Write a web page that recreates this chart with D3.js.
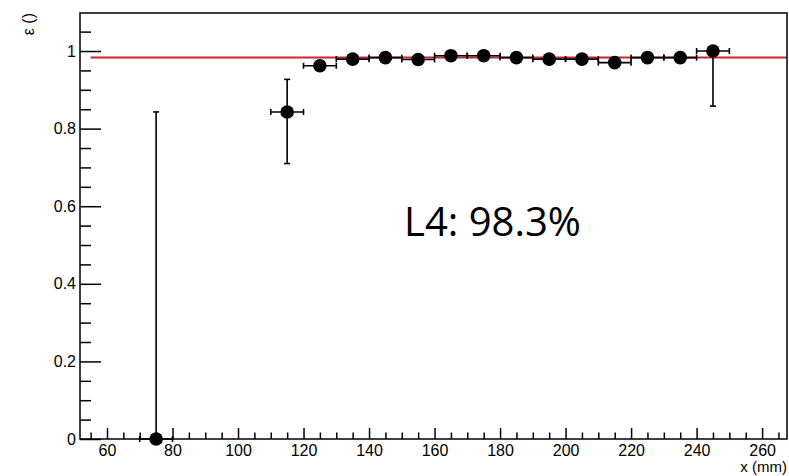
<!DOCTYPE html>
<html>
<head>
<meta charset="utf-8">
<script src="https://cdn.jsdelivr.net/npm/d3@7"></script>
<style>
	body { margin: 0; background: #ffffff; overflow: hidden; }
	.axis text { font-family: "Liberation Sans", Arial, sans-serif; font-size: 16px; fill: #000; }
	.axis path { display: none; }
	.axis line { stroke: #000; stroke-width: 1.5px; }
	.axisText { font-family: "Liberation Sans", Arial, sans-serif; font-size: 16px; }
</style>
</head>
<body>
<script>

// bin centres (mm) and efficiency per bin
var binX = [75, 115, 125, 135, 145, 155, 165, 175, 185, 195, 205, 215, 225, 235, 245];
var eff = [0, 0.843, 0.962, 0.979, 0.983, 0.978, 0.988, 0.988, 0.983, 0.979, 0.979, 0.970, 0.983, 0.983, 1.0];
// asymmetric errors (down / up)
var errLow = [0, 0.133, 0.012, 0.010, 0.010, 0.010, 0.008, 0.008, 0.010, 0.010, 0.010, 0.012, 0.010, 0.010, 0.142];
var errHigh = [0.843, 0.084, 0.010, 0.008, 0.008, 0.008, 0.006, 0.006, 0.008, 0.008, 0.008, 0.010, 0.008, 0.008, 0];
// half bin width
var binHalf = 5;

// constant fit
var fitValue = 0.983;
var fitRange = [55, 267.6];

var xTicks = [60, 80, 100, 120, 140, 160, 180, 200, 220, 240, 260];
var yTicks = [0, 0.2, 0.4, 0.6, 0.8, 1];

var w = 789
var h = 476
var leftMargin = 80
var rightEdge = 787
var topMargin = 13
var bottomEdge = 439

// scales
var scaleX = d3.scaleLinear()
	.domain([51.76, 267.6])
	.range([leftMargin, rightEdge]);

var scaleY = d3.scaleLinear()
	.domain([0, 1.098])
	.range([bottomEdge, topMargin]);

var svg = d3.select("body")
	.append("svg")
	.attr("width", w)
	.attr("height", h);

// minor ticks x
var minorX = d3.range(55, 266, 5).filter(function(d) { return d % 20 != 0; });
svg.append("g")
	.attr("class", "axis")
	.attr("transform", "translate(0," + bottomEdge + ")")
	.call(d3.axisBottom(scaleX).tickValues(minorX).tickSize(-6.5).tickFormat(""));

// major ticks x
svg.append("g")
	.attr("class", "axis")
	.attr("transform", "translate(0," + bottomEdge + ")")
	.call(d3.axisBottom(scaleX).tickValues(xTicks).tickSize(-11).tickPadding(6).tickFormat(d3.format("d")));

// minor ticks y
var minorY = d3.range(0.05, 1.09, 0.05).filter(function(d) { return Math.abs(d * 5 - Math.round(d * 5)) > 0.01; });
svg.append("g")
	.attr("class", "axis")
	.attr("transform", "translate(" + leftMargin + ",0)")
	.call(d3.axisLeft(scaleY).tickValues(minorY).tickSize(-11).tickFormat(""));

// major ticks y
svg.append("g")
	.attr("class", "axis")
	.attr("transform", "translate(" + leftMargin + ",0)")
	.call(d3.axisLeft(scaleY).tickValues(yTicks).tickSize(-21).tickPadding(4).tickFormat(function(d) { return String(d); }));

// fit line
svg.append("line")
	.attr("x1", scaleX(fitRange[0]))
	.attr("x2", scaleX(fitRange[1]))
	.attr("y1", scaleY(fitValue))
	.attr("y2", scaleY(fitValue))
	.attr("stroke", "#c8282b")
	.attr("stroke-width", 2);

var points = binX.map(function(d, i) {
	return {x: d, y: eff[i], lo: errLow[i], hi: errHigh[i]};
});

var bars = svg.append("g")
	.attr("stroke", "#000")
	.attr("stroke-width", 1.6);

var cap = 3;
points.forEach(function(p) {
	var cx = scaleX(p.x), cy = scaleY(p.y);
	var xl = scaleX(p.x - binHalf), xr = scaleX(p.x + binHalf);
	// horizontal error
	bars.append("line").attr("x1", xl).attr("x2", xr).attr("y1", cy).attr("y2", cy);
	bars.append("line").attr("x1", xl).attr("x2", xl).attr("y1", cy - cap).attr("y2", cy + cap);
	bars.append("line").attr("x1", xr).attr("x2", xr).attr("y1", cy - cap).attr("y2", cy + cap);
	// vertical error
	var yt = scaleY(p.y + p.hi), yb = scaleY(p.y - p.lo);
	bars.append("line").attr("x1", cx).attr("x2", cx).attr("y1", yt).attr("y2", yb);
	if (p.hi > 0.02) {
		bars.append("line").attr("x1", cx - cap).attr("x2", cx + cap).attr("y1", yt).attr("y2", yt);
	}
	if (p.lo > 0.02) {
		bars.append("line").attr("x1", cx - cap).attr("x2", cx + cap).attr("y1", yb).attr("y2", yb);
	}
});

// markers
svg.selectAll("circle")
	.data(points)
	.enter()
	.append("circle")
	.attr("cx", function(d) { return scaleX(d.x); })
	.attr("cy", function(d) { return scaleY(d.y); })
	.attr("r", 6.8)
	.attr("fill", "#000");

// frame
svg.append("rect")
	.attr("x", leftMargin)
	.attr("y", topMargin)
	.attr("width", rightEdge - leftMargin)
	.attr("height", bottomEdge - topMargin)
	.attr("fill", "none")
	.attr("stroke", "#000")
	.attr("stroke-width", 1.5);

// x axis label
svg.append("text")
	.attr("class", "axisText")
	.attr("x", 787)
	.attr("y", 472)
	.style("font-size", "15px")
	.style("text-anchor", "end")
	.text("x (mm)");

// y axis label
svg.append("text")
	.attr("class", "axisText")
	.attr("transform", "translate(34,13) rotate(-90)")
	.style("text-anchor", "end")
	.text("ε ()");

// efficiency annotation
svg.append("text")
	.attr("x", 404)
	.attr("y", 236)
	.style("font-family", "'Open Sans', sans-serif")
	.style("font-size", "40px")
	.text("L4: 98.3%");

</script>
</body>
</html>
